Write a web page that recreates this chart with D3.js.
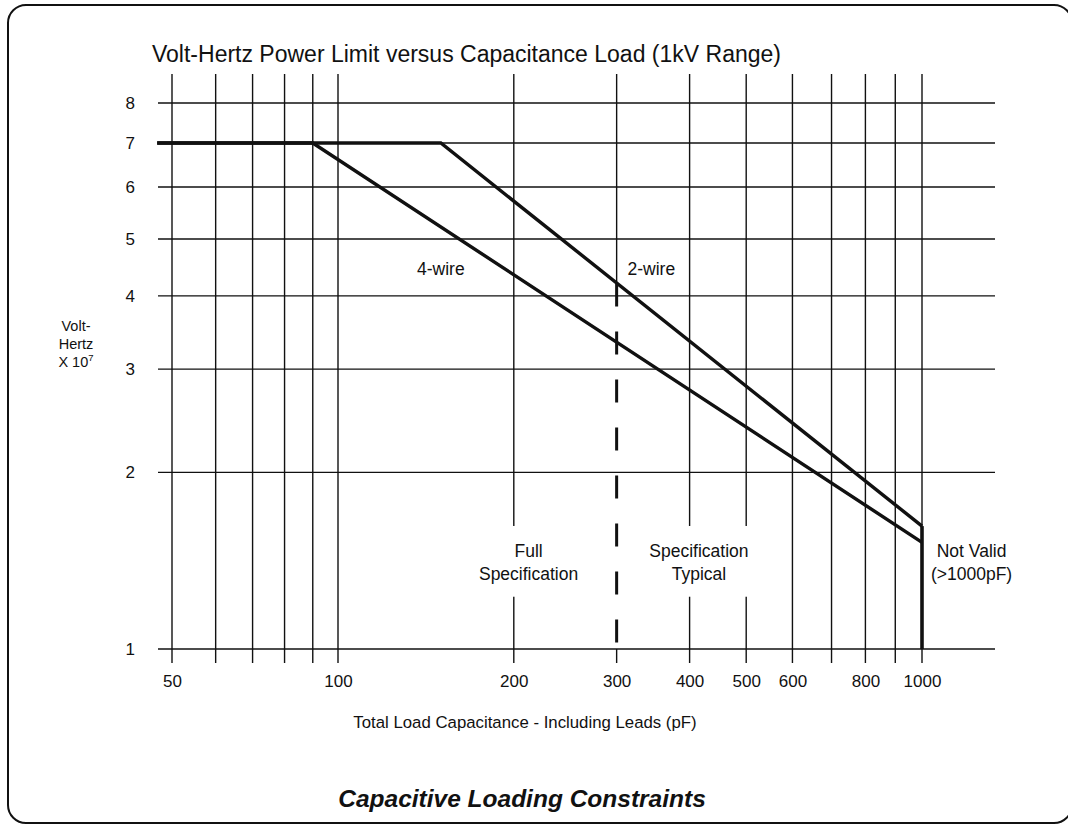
<!DOCTYPE html>
<html>
<head>
<meta charset="utf-8">
<script src="https://cdn.jsdelivr.net/npm/d3@7"></script>
<style>
  html, body { margin: 0; padding: 0; background: #fff; }
  svg { display: block; font-family: "Liberation Sans", Arial, Helvetica, sans-serif; }
</style>
</head>
<body>
<svg id="chart" width="1068" height="825"></svg>
<script>
// Grid and tick values
const capacitanceTicks = [50, 60, 70, 80, 90, 100, 200, 300, 400, 500, 600, 700, 800, 900, 1000];
const capacitanceLabels = [50, 100, 200, 300, 400, 500, 600, 800, 1000];
const voltHertzTicks = [1, 2, 3, 4, 5, 6, 7, 8];

// Volt-Hertz limit curves (pF, V·Hz x 10^7)
const fourWire = [{ c: 47, v: 7 }, { c: 90, v: 7 }, { c: 1000, v: 1.52 }];
const twoWire = [{ c: 47, v: 7 }, { c: 150, v: 7 }, { c: 1000, v: 1.62 }];
const validityLimit = [{ c: 1000, v: 1.62 }, { c: 1000, v: 1 }];
const specBoundary = [{ c: 300, v: 4.2 }, { c: 300, v: 1 }];

// Annotations placed in data coordinates
const curveLabels = [
  { text: "4-wire", c: 150, v: 4.45 },
  { text: "2-wire", c: 344, v: 4.45 }
];
const regionLabels = [
  { text: ["Full", "Specification"], c: 212, v: 1.47, knockout: true },
  { text: ["Specification", "Typical"], c: 415, v: 1.47, knockout: true },
  { text: ["Not Valid", "(>1000pF)"], c: 1216, v: 1.47, knockout: false }
];

const svg = d3.select("#chart");
const ink = "#111";
const labelSize = 17.5;

// Frame
svg.append("rect")
  .attr("x", 8).attr("y", 5)
  .attr("width", 1064).attr("height", 818)
  .attr("rx", 18).attr("ry", 18)
  .attr("fill", "none").attr("stroke", ink).attr("stroke-width", 2);

// Plot extents
const plot = { left: 158, right: 995, top: 74, bottom: 663 };

// Log scales (piecewise to follow the printed grid)
const x = d3.scaleLog().domain([50, 100, 1000]).range([172, 338, 922]);
const y = d3.scaleLog().domain([1, 5, 7, 8]).range([649, 239, 143, 103]);

const grid = svg.append("g").attr("stroke", ink).attr("stroke-width", 1.4).attr("fill", "none");

// Horizontal grid lines
grid.selectAll("line.h").data(voltHertzTicks).join("line")
  .attr("class", "h")
  .attr("x1", plot.left).attr("x2", plot.right)
  .attr("y1", d => y(d)).attr("y2", d => y(d));

// Vertical grid lines; the 300 pF line becomes the dashed boundary below the 2-wire curve
const vSegments = [];
capacitanceTicks.forEach(c => {
  if (c === specBoundary[0].c) {
    vSegments.push({ c, y1: plot.top, y2: y(specBoundary[0].v) });
    vSegments.push({ c, y1: y(specBoundary[1].v), y2: plot.bottom });
  } else {
    vSegments.push({ c, y1: plot.top, y2: plot.bottom });
  }
});
grid.selectAll("line.v").data(vSegments).join("line")
  .attr("class", "v")
  .attr("x1", d => x(d.c)).attr("x2", d => x(d.c))
  .attr("y1", d => d.y1).attr("y2", d => d.y2);

// Axes (labels only)
const yAxis = svg.append("g")
  .attr("transform", `translate(${plot.left},0)`)
  .call(d3.axisLeft(y).tickValues(voltHertzTicks).tickFormat(d3.format("d")).tickSize(0).tickPadding(23));
const xAxis = svg.append("g")
  .attr("transform", `translate(0,${y(1)})`)
  .call(d3.axisBottom(x).tickValues(capacitanceLabels).tickFormat(d3.format("d")).tickSize(0).tickPadding(26));
[yAxis, xAxis].forEach(g => {
  g.select(".domain").remove();
  g.selectAll("text").attr("font-size", 17).attr("fill", ink)
    .attr("font-family", "'Liberation Sans', Arial, sans-serif");
});

// Region labels, knocking out the grid behind them
const regionG = svg.append("g");
regionLabels.forEach(d => {
  const g = regionG.append("g");
  const bg = g.append("rect").attr("fill", "#fff");
  const t = g.append("text")
    .attr("text-anchor", "middle").attr("font-size", labelSize).attr("fill", ink)
    .attr("x", x(d.c)).attr("y", y(d.v));
  d.text.forEach((line, i) => {
    t.append("tspan").attr("x", x(d.c)).attr("dy", i === 0 ? "0.35em" : "1.3em").text(line);
  });
  if (d.knockout) {
    const b = t.node().getBBox();
    bg.attr("x", b.x - 4).attr("y", b.y - 15).attr("width", b.width + 8).attr("height", b.height + 28);
  } else {
    bg.remove();
  }
});

// Curves
const line = d3.line().x(d => x(d.c)).y(d => y(d.v));
const curves = svg.append("g").attr("fill", "none").attr("stroke", ink)
  .attr("stroke-linejoin", "miter").attr("stroke-linecap", "butt");
curves.append("path").datum(fourWire).attr("d", line).attr("stroke-width", 3.4);
curves.append("path").datum(twoWire).attr("d", line).attr("stroke-width", 3.4);
curves.append("path").datum(validityLimit).attr("d", line).attr("stroke-width", 3.6);
curves.append("path").datum(specBoundary).attr("d", line)
  .attr("stroke-width", 3).attr("stroke-dasharray", "23,25");

// Curve labels
svg.append("g").selectAll("text").data(curveLabels).join("text")
  .attr("x", d => x(d.c)).attr("y", d => y(d.v)).attr("dy", "0.35em")
  .attr("text-anchor", "middle").attr("font-size", labelSize).attr("fill", ink)
  .text(d => d.text);

// Y axis title
const yTitle = svg.append("text").attr("text-anchor", "middle").attr("font-size", 14.5).attr("fill", ink);
yTitle.append("tspan").attr("x", 76).attr("y", 331).text("Volt-");
yTitle.append("tspan").attr("x", 76).attr("y", 349).text("Hertz");
const x10 = svg.append("text").attr("text-anchor", "middle").attr("font-size", 14.5).attr("fill", ink)
  .attr("x", 76).attr("y", 367);
x10.append("tspan").text("X 10");
x10.append("tspan").attr("font-size", 9.5).attr("dy", -6).text("7");

// Chart title
svg.append("text")
  .attr("x", 152).attr("y", 62)
  .attr("font-size", 23).attr("fill", ink)
  .text("Volt-Hertz Power Limit versus Capacitance Load (1kV Range)");

// X axis title
svg.append("text")
  .attr("x", 525).attr("y", 728).attr("text-anchor", "middle")
  .attr("font-size", 16.8).attr("fill", ink)
  .text("Total Load Capacitance - Including Leads (pF)");

// Caption
svg.append("text")
  .attr("x", 522).attr("y", 807).attr("text-anchor", "middle")
  .attr("font-size", 24.5).attr("font-weight", "bold").attr("font-style", "italic").attr("fill", ink)
  .text("Capacitive Loading Constraints");
</script>
</body>
</html>
